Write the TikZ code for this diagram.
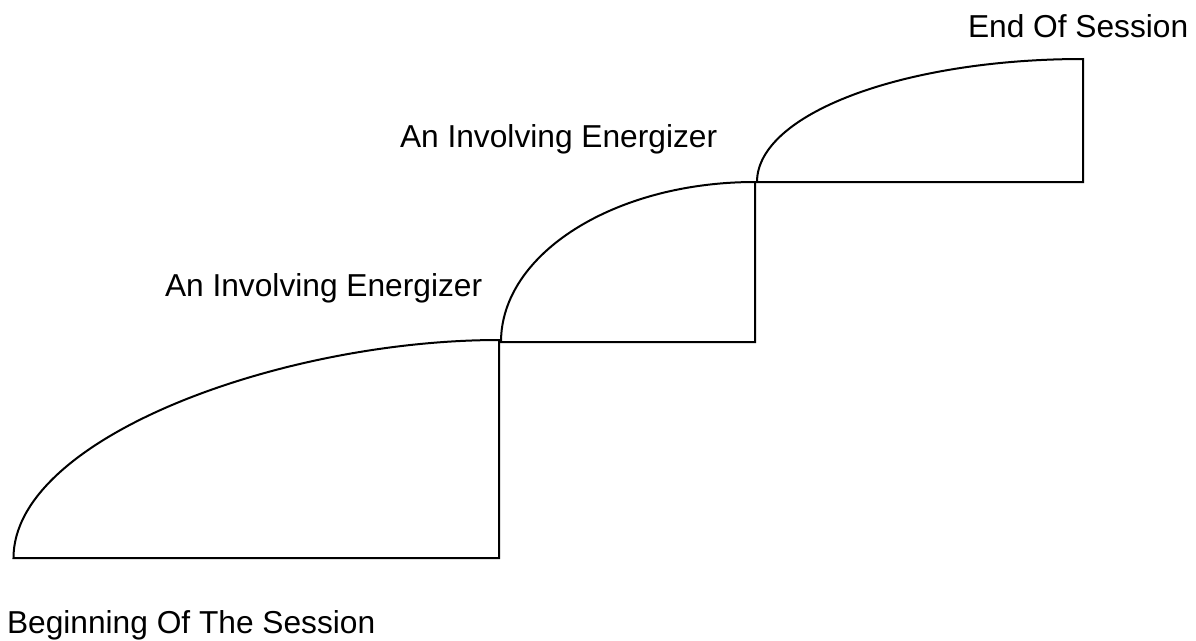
\documentclass[tikz,border=0pt]{standalone}
\usepackage{fontspec}
\setmainfont{Liberation Sans}
\begin{document}
\begin{tikzpicture}[x=1pt,y=-1pt,
  stair/.style={draw=black,line width=2pt,line join=miter},
  lbl/.style={anchor=base west,inner sep=0pt,outer sep=0pt,font=\fontsize{31.7}{36}\selectfont}]
\useasboundingbox (0,0) rectangle (1196,640);
% shape 1
\draw[stair] (13.5,558) .. controls (13.5,437.6) and (281.6,340) .. (499,340) -- (499,558) -- cycle;
% shape 2
\draw[stair] (501,342) .. controls (501,253.6) and (614.7,182) .. (755,182) -- (755,342) -- cycle;
% shape 3
\draw[stair] (757,182) .. controls (757,114.1) and (903,59) .. (1083,59) -- (1083,182) -- cycle;
\node[lbl] (endS) at (968,37) {End Of Session};
\node[lbl] (en2) at (400,147) {An Involving Energizer};
\node[lbl] (en1) at (165,296.5) {An Involving Energizer};
\node[lbl] (beg) at (7,633) {Beginning Of The Session};
\end{tikzpicture}
\end{document}
